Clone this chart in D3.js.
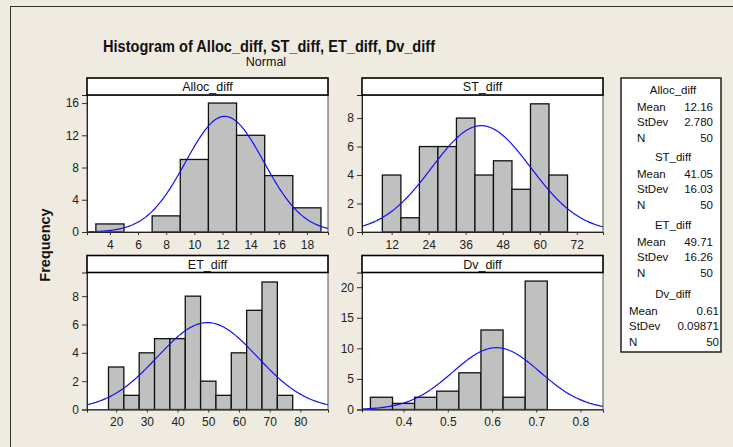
<!DOCTYPE html>
<html lang="en">
<head>
<meta charset="UTF-8">
<title>Histogram of Alloc_diff, ST_diff, ET_diff, Dv_diff</title>
<script src="https://cdnjs.cloudflare.com/ajax/libs/d3/7.8.5/d3.min.js"></script>
<style>
    * { margin: 0; padding: 0; }
    body { background: #efebe1; }
    svg { display: block; font-family: "Liberation Sans", Arial, sans-serif; }
    .tick text { fill: #222; font-size: 12px; }
    .tick line { stroke: #333; }
</style>
</head>
<body>
<script>
// ---- data ----
var names = ["Alloc_diff", "ST_diff", "ET_diff", "Dv_diff"];

var allocMids = [4, 6, 8, 10, 12, 14, 16, 18];
var allocCounts = [1, 0, 2, 9, 16, 12, 7, 3];

var stMids = [12, 18, 24, 30, 36, 42, 48, 54, 60, 66];
var stCounts = [4, 1, 6, 6, 8, 4, 5, 3, 9, 4];

var etMids = [20, 25, 30, 35, 40, 45, 50, 55, 60, 65, 70, 75];
var etCounts = [3, 1, 4, 5, 5, 8, 2, 1, 4, 7, 9, 1];

var dvMids = [0.35, 0.40, 0.45, 0.50, 0.55, 0.60, 0.65, 0.70];
var dvCounts = [2, 1, 2, 3, 6, 13, 2, 21];

var binWidths = [2, 6, 5, 0.05];

var means = [12.16, 41.05, 49.71, 0.61];
var stdevs = [2.780, 16.03, 16.26, 0.09871];
var counts = [50, 50, 50, 50];
var meanText = ["12.16", "41.05", "49.71", "0.61"];
var stdevText = ["2.780", "16.03", "16.26", "0.09871"];

var xTicks = [
    [4, 6, 8, 10, 12, 14, 16, 18],
    [12, 24, 36, 48, 60, 72],
    [20, 30, 40, 50, 60, 70, 80],
    [0.4, 0.5, 0.6, 0.7, 0.8]
];
var yTicks = [
    [0, 4, 8, 12, 16],
    [0, 2, 4, 6, 8],
    [0, 2, 4, 6, 8],
    [0, 5, 10, 15, 20]
];
var xDomains = [[2.37, 19.5], [2.4, 80.5], [10.5, 89], [0.306, 0.851]];
var yDomains = [[0, 17], [0, 9.62], [0, 9.67], [0, 22.4]];

var mids = [allocMids, stMids, etMids, dvMids];
var freqs = [allocCounts, stCounts, etCounts, dvCounts];

// ---- layout ----
var W = 733, H = 447;
var panelX = [87, 362, 87, 362];
var stripY = [78, 78, 255.5, 255.5];
var pw = 241, stripH = 17, ph = 137;

var svg = d3.select("body").append("svg")
    .attr("width", W)
    .attr("height", H);

svg.append("rect")
    .attr("x", 10.5).attr("y", 6.5)
    .attr("width", 800).attr("height", 600)
    .attr("fill", "#efebe1")
    .attr("stroke", "#333");

// title
svg.append("text")
    .attr("x", 269).attr("y", 52)
    .attr("text-anchor", "middle")
    .attr("font-size", "16px")
    .attr("font-weight", "bold")
    .attr("textLength", 332)
    .attr("lengthAdjust", "spacingAndGlyphs")
    .attr("fill", "#111")
    .text("Histogram of Alloc_diff, ST_diff, ET_diff, Dv_diff");

svg.append("text")
    .attr("x", 266).attr("y", 66)
    .attr("text-anchor", "middle")
    .attr("font-size", "12.5px")
    .attr("fill", "#111")
    .text("Normal");

svg.append("text")
    .attr("transform", "translate(50,245) rotate(-90)")
    .attr("text-anchor", "middle")
    .attr("font-size", "14.5px")
    .attr("font-weight", "bold")
    .attr("fill", "#111")
    .text("Frequency");

function pdf(x, m, s) {
    return Math.exp(-0.5 * Math.pow((x - m) / s, 2)) / (s * Math.sqrt(2 * Math.PI));
}

names.forEach(function (name, i) {
    var top = stripY[i] + stripH;
    var g = svg.append("g")
        .attr("transform", "translate(" + panelX[i] + "," + top + ")");

    var x = d3.scaleLinear().domain(xDomains[i]).range([0, pw]);
    var y = d3.scaleLinear().domain(yDomains[i]).range([ph, 0]);

    g.append("rect")
        .attr("width", pw).attr("height", ph)
        .attr("fill", "#fff");

    var clipId = "clip" + i;
    g.append("clipPath").attr("id", clipId)
        .append("rect").attr("width", pw + 2).attr("height", ph);

    var bw = binWidths[i];
    var bars = mids[i].map(function (m, k) { return { mid: m, n: freqs[i][k] }; })
        .filter(function (d) { return d.n > 0; });

    g.selectAll(".bar")
        .data(bars)
        .enter()
        .append("rect")
        .attr("class", "bar")
        .attr("x", function (d) { return x(d.mid - bw / 2); })
        .attr("y", function (d) { return y(d.n); })
        .attr("width", function (d) { return x(d.mid + bw / 2) - x(d.mid - bw / 2); })
        .attr("height", function (d) { return ph - y(d.n); })
        .attr("fill", "#c0c0c0")
        .attr("stroke", "#111")
        .attr("stroke-width", 1.3);

    // fitted normal curve
    var pts = d3.range(0, 201).map(function (k) {
        var xv = xDomains[i][0] + (xDomains[i][1] - xDomains[i][0]) * k / 200;
        return [xv, counts[i] * bw * pdf(xv, means[i], stdevs[i])];
    });
    g.append("path")
        .datum(pts)
        .attr("clip-path", "url(#" + clipId + ")")
        .attr("fill", "none")
        .attr("stroke", "#1010ff")
        .attr("stroke-width", 1.2)
        .attr("d", d3.line()
            .x(function (d) { return x(d[0]); })
            .y(function (d) { return y(d[1]); }));

    // frame
    g.append("rect")
        .attr("width", pw).attr("height", ph)
        .attr("fill", "none")
        .attr("stroke", "#555");

    var fmt = i === 3 ? d3.format(".1f") : d3.format("d");
    var xa = g.append("g")
        .attr("transform", "translate(0," + ph + ")")
        .call(d3.axisBottom(x).tickValues(xTicks[i]).tickSize(3).tickPadding(5).tickFormat(fmt));
    xa.select(".domain").attr("stroke", "#222");

    var ya = g.append("g")
        .call(d3.axisLeft(y).tickValues(yTicks[i]).tickSize(5).tickPadding(3));
    ya.select(".domain").attr("stroke", "#222");
    xa.selectAll("text").attr("font-family", null);
    ya.selectAll("text").attr("font-family", null);

    // strip
    var s = svg.append("g")
        .attr("transform", "translate(" + panelX[i] + "," + stripY[i] + ")");
    s.append("rect")
        .attr("width", pw).attr("height", stripH)
        .attr("fill", "#fff")
        .attr("stroke", "#000")
        .attr("stroke-width", 1.6);
    s.append("text")
        .attr("x", pw / 2).attr("y", 13)
        .attr("text-anchor", "middle")
        .attr("font-size", "12.5px")
        .attr("fill", "#111")
        .text(name);
});

// legend
var lg = svg.append("g");
lg.append("rect")
    .attr("x", 621).attr("y", 78)
    .attr("width", 100).attr("height", 274)
    .attr("fill", "#fff")
    .attr("stroke", "#222")
    .attr("stroke-width", 1.5);

var groupY = [90, 157, 225, 294];
var rowOff = [0, 16.5, 32, 48];
names.forEach(function (name, i) {
    var gy = groupY[i] + 4;
    var lx = i === 3 ? 629 : 637;
    var rx = i === 3 ? 719 : 713;
    lg.append("text")
        .attr("x", 673).attr("y", gy)
        .attr("text-anchor", "middle")
        .attr("font-size", "11.5px")
        .attr("fill", "#111")
        .text(name);
    var rows = [["Mean", meanText[i]], ["StDev", stdevText[i]], ["N", String(counts[i])]];
    rows.forEach(function (r, k) {
        lg.append("text")
            .attr("x", lx).attr("y", gy + rowOff[k + 1])
            .attr("font-size", "11.5px")
            .attr("fill", "#111")
            .text(r[0]);
        lg.append("text")
            .attr("x", rx).attr("y", gy + rowOff[k + 1])
            .attr("text-anchor", "end")
            .attr("font-size", "11.5px")
            .attr("fill", "#111")
            .text(r[1]);
    });
});
</script>
</body>
</html>
